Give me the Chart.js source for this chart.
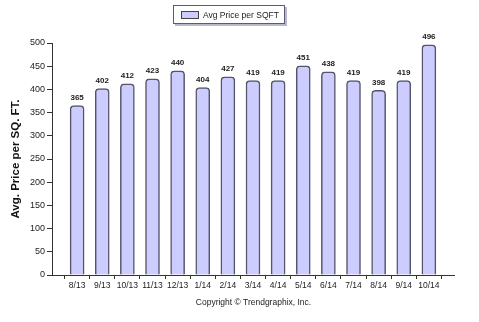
<!DOCTYPE html>
<html>
<head>
<meta charset="utf-8">
<script src="https://cdn.jsdelivr.net/npm/chart.js@4.4.0/dist/chart.umd.min.js"></script>
<style>
  body { margin: 0; background: #fff; }
  #wrap { position: relative; width: 479px; height: 322px; }
  #legend {
    position: absolute; left: 173px; top: 5px; width: 110px; height: 17px;
    border: 1px solid #5a5a7a; box-shadow: 2px 2px 0 #b8b8cc;
    font: 8.5px "Liberation Sans", Arial, sans-serif; color: #222;
    display: flex; align-items: center; background: #fff;
  }
  #legend .sw {
    width: 16px; height: 6px; background: #ccccff; border: 1px solid #444;
    margin: 0 4px 0 7px;
  }
  #copy {
    position: absolute; left: 0; width: 479px; top: 297px; text-align: center;
    font: 8.5px "Liberation Sans", Arial, sans-serif; color: #222; margin-left: 14px;
  }
</style>
</head>
<body>
<div id="wrap">
  <canvas id="chart" width="479" height="322"></canvas>
  <div id="legend"><span class="sw"></span>Avg Price per SQFT</div>
  <div id="copy">Copyright © Trendgraphix, Inc.</div>
</div>
<script>
const months = ['8/13', '9/13', '10/13', '11/13', '12/13', '1/14', '2/14', '3/14', '4/14', '5/14', '6/14', '7/14', '8/14', '9/14', '10/14'];
const avgPrice = [365, 402, 412, 423, 440, 404, 427, 419, 419, 451, 438, 419, 398, 419, 496];
const yTicks = [0, 50, 100, 150, 200, 250, 300, 350, 400, 450, 500];

document.addEventListener('DOMContentLoaded', function() {
    const points = avgPrice.map((v, i) => ({ x: i + 1, y: v }));

    // numbers above each bar
    const valueLabels = {
        id: 'valueLabels',
        afterDatasetsDraw(chart) {
            const ctx = chart.ctx;
            ctx.save();
            ctx.font = 'bold 8px "Liberation Sans", Arial, sans-serif';
            ctx.fillStyle = '#222';
            ctx.textAlign = 'center';
            ctx.textBaseline = 'bottom';
            chart.getDatasetMeta(0).data.forEach((bar, i) => {
                ctx.fillText(avgPrice[i], bar.x, bar.y - 4);
            });
            ctx.restore();
        }
    };

    new Chart(document.getElementById('chart').getContext('2d'), {
        type: 'bar',
        data: {
            datasets: [{
                label: 'Avg Price per SQFT',
                data: points,
                backgroundColor: '#ccccff',
                borderColor: '#55556a',
                borderWidth: 1.5,
                borderSkipped: 'bottom',
                borderRadius: { topLeft: 4, topRight: 4 },
                barThickness: 14
            }]
        },
        options: {
            responsive: false,
            animation: false,
            layout: { padding: { top: 43, right: 25, left: 0, bottom: 0 } },
            scales: {
                x: {
                    type: 'linear',
                    offset: false,
                    min: 0,
                    max: 16,
                    afterBuildTicks(scale) {
                        scale.ticks = [];
                        for (let i = 0; i <= 16; i++) scale.ticks.push({ value: i });
                    },
                    afterFit(scale) { scale.height = 47; },
                    ticks: {
                        autoSkip: false,
                        maxRotation: 0,
                        padding: 2,
                        color: '#222',
                        font: { family: '"Liberation Sans", Arial, sans-serif', size: 8.5 },
                        callback: (v) => months[v - 1] || ''
                    },
                    grid: { drawOnChartArea: false, tickLength: 4, color: '#333' },
                    border: { color: '#333', width: 1 }
                },
                y: {
                    min: 0,
                    max: 500,
                    afterBuildTicks(scale) {
                        scale.ticks = yTicks.map(v => ({ value: v }));
                    },
                    afterFit(scale) { scale.width = 52; },
                    ticks: {
                        padding: 2,
                        color: '#222',
                        font: { family: '"Liberation Sans", Arial, sans-serif', size: 9 }
                    },
                    grid: { drawOnChartArea: false, tickLength: 5, color: '#333' },
                    border: { color: '#333', width: 1 },
                    title: {
                        display: true,
                        text: 'Avg. Price per SQ. FT.',
                        color: '#111',
                        padding: { top: 9, bottom: 0 },
                        font: { family: '"Liberation Sans", Arial, sans-serif', size: 11.5, weight: 'bold' }
                    }
                }
            },
            plugins: {
                legend: { display: false },
                tooltip: { enabled: false }
            }
        },
        plugins: [valueLabels]
    });
});
</script>
</body>
</html>
